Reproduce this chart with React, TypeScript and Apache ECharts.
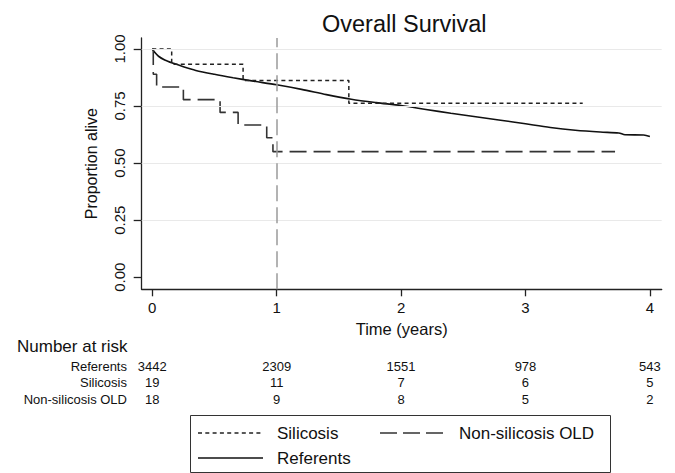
import React, { useEffect, useRef } from "react";
import * as echarts from "echarts";

const FONT = "'Liberation Sans', Arial, Helvetica, sans-serif";

const X_TICKS = [0, 1, 2, 3, 4];
const Y_TICKS = [0, 0.25, 0.5, 0.75, 1];
const Y_GRID = [0.25, 0.5, 0.75, 1];

// Referents (smooth KM curve, many events)
const referentsT = [0, 0.02, 0.05, 0.1, 0.17, 0.25, 0.35, 0.5, 0.65, 0.8, 1.0, 1.2, 1.4, 1.6, 1.8, 2.0, 2.2, 2.4, 2.6, 2.8, 3.0, 3.2, 3.4, 3.6, 3.75, 3.8, 3.95, 4.0];
const referentsS = [1.0, 0.985, 0.968, 0.952, 0.937, 0.922, 0.906, 0.889, 0.874, 0.86, 0.843, 0.823, 0.8, 0.78, 0.765, 0.752, 0.735, 0.718, 0.703, 0.688, 0.672, 0.656, 0.644, 0.636, 0.632, 0.624, 0.623, 0.616];

// Silicosis (step)
const silicosisT = [0, 0.156, 0.73, 1.58, 3.46];
const silicosisS = [1.0, 0.933, 0.862, 0.762, 0.762];

// Non-silicosis OLD (step)
const nonSilT = [0, 0.008, 0.035, 0.25, 0.545, 0.69, 0.92, 0.97, 3.72];
const nonSilS = [1.0, 0.889, 0.833, 0.778, 0.722, 0.667, 0.611, 0.55, 0.55];

// Number at risk
const riskGroups = ["Referents", "Silicosis", "Non-silicosis OLD"];
const riskReferents = [3442, 2309, 1551, 978, 543];
const riskSilicosis = [19, 11, 7, 6, 5];
const riskNonSil = [18, 9, 8, 5, 2];

const zip = (t: number[], s: number[]) => t.map((v, i) => [v, s[i]]);

export default function App() {
  const ref = useRef<HTMLDivElement>(null);

  useEffect(() => {
    if (!ref.current) return;
    const chart = echarts.init(ref.current, null, { renderer: "svg" });
    const txt = "#111";

    chart.setOption({
      animation: false,
      backgroundColor: "#fff",
      title: {
        text: "Overall Survival",
        left: 317,
        top: 7,
        textStyle: { fontSize: 23.5, fontWeight: "normal", color: txt, fontFamily: FONT },
      },
      grid: { left: 141.7, right: 13.3, top: 38, bottom: 183.7, containLabel: false },
      xAxis: {
        type: "value",
        min: -0.085,
        max: 4.095,
        name: "Time (years)",
        nameLocation: "middle",
        nameGap: 30,
        nameTextStyle: { fontSize: 16.5, color: txt, fontFamily: FONT },
        axisLine: { show: true, onZero: false, lineStyle: { color: "#222", width: 1.3 } },
        axisTick: { show: true, length: 7, customValues: X_TICKS, lineStyle: { color: "#222", width: 1.3 } },
        axisLabel: { customValues: X_TICKS, margin: 11, fontSize: 15, color: txt, fontFamily: FONT },
        splitLine: { show: false },
      },
      yAxis: {
        type: "value",
        min: -0.053,
        max: 1.048,
        name: "Proportion alive",
        nameLocation: "middle",
        nameGap: 42,
        nameRotate: 90,
        nameTextStyle: { fontSize: 16, color: txt, fontFamily: FONT },
        axisLine: { show: true, onZero: false, lineStyle: { color: "#222", width: 1.3 } },
        axisTick: { show: true, length: 8, customValues: Y_TICKS, lineStyle: { color: "#222", width: 1.3 } },
        axisLabel: {
          customValues: Y_TICKS,
          rotate: 90,
          margin: 15,
          fontSize: 15,
          color: txt,
          fontFamily: FONT,
          formatter: (v: number) => v.toFixed(2),
        },
        splitLine: { show: false },
      },
      series: [
        {
          name: "grid",
          type: "line",
          data: [],
          silent: true,
          z: 1,
          markLine: {
            silent: true,
            symbol: "none",
            label: { show: false },
            lineStyle: { color: "#e9e9e9", type: "solid", width: 1 },
            data: Y_GRID.map((v) => ({ yAxis: v })),
          },
        },
        {
          name: "Referents",
          type: "line",
          data: zip(referentsT, referentsS),
          showSymbol: false,
          smooth: 0.3,
          lineStyle: { color: "#111", width: 1.6, type: "solid" },
          z: 3,
        },
        {
          name: "Silicosis",
          type: "line",
          step: "end",
          data: zip(silicosisT, silicosisS),
          showSymbol: false,
          lineStyle: { color: "#222", width: 1.5, type: [4, 3.3] },
          z: 3,
        },
        {
          name: "Non-silicosis OLD",
          type: "line",
          step: "end",
          data: zip(nonSilT, nonSilS),
          showSymbol: false,
          lineStyle: { color: "#333", width: 1.6, type: [17, 7] },
          z: 3,
          markLine: {
            silent: true,
            symbol: "none",
            label: { show: false },
            lineStyle: { color: "#9a9a9a", type: [16, 6], width: 1.5 },
            data: [{ xAxis: 1 }],
          },
        },
      ],
    });

    const px = (t: number) => chart.convertToPixel({ xAxisIndex: 0 }, t) as number;
    const rows = [riskReferents, riskSilicosis, riskNonSil];
    const rowY = [366, 382.5, 399];
    const graphic: any[] = [];
    graphic.push({
      type: "text",
      left: 17,
      top: 348 - 10,
      style: { text: "Number at risk", fontSize: 17, fill: txt, font: `17px ${FONT}` },
    });
    rows.forEach((vals, r) => {
      graphic.push({
        type: "text",
        x: 127,
        y: rowY[r],
        style: { text: riskGroups[r], fill: txt, font: `13px ${FONT}`, textAlign: "right", textVerticalAlign: "middle" },
      });
      vals.forEach((v, i) => {
        graphic.push({
          type: "text",
          x: px(X_TICKS[i]),
          y: rowY[r],
          style: { text: String(v), fill: txt, font: `13px ${FONT}`, textAlign: "center", textVerticalAlign: "middle" },
        });
      });
    });
    // Legend box
    graphic.push({
      type: "rect",
      shape: { x: 190.5, y: 415.5, width: 420, height: 57 },
      style: { fill: "#fff", stroke: "#333", lineWidth: 1 },
    });
    const legendItems = [
      { name: "Silicosis", x: 198, y: 433, dash: [4, 3.3], color: "#222" },
      { name: "Non-silicosis OLD", x: 380, y: 433, dash: [17, 6], color: "#333" },
      { name: "Referents", x: 198, y: 458, dash: null, color: "#111" },
    ];
    legendItems.forEach((it) => {
      graphic.push({
        type: "line",
        shape: { x1: it.x, y1: it.y, x2: it.x + 65, y2: it.y },
        style: { stroke: it.color, lineWidth: 1.5, lineDash: it.dash || undefined },
      });
      graphic.push({
        type: "text",
        x: it.x + 79,
        y: it.y,
        style: { text: it.name, fill: txt, font: `17px ${FONT}`, textVerticalAlign: "middle" },
      });
    });
    chart.setOption({ graphic });

    return () => chart.dispose();
  }, []);

  return <div ref={ref} style={{ position: "fixed", left: 0, top: 0, width: 675, height: 473 }} />;
}
